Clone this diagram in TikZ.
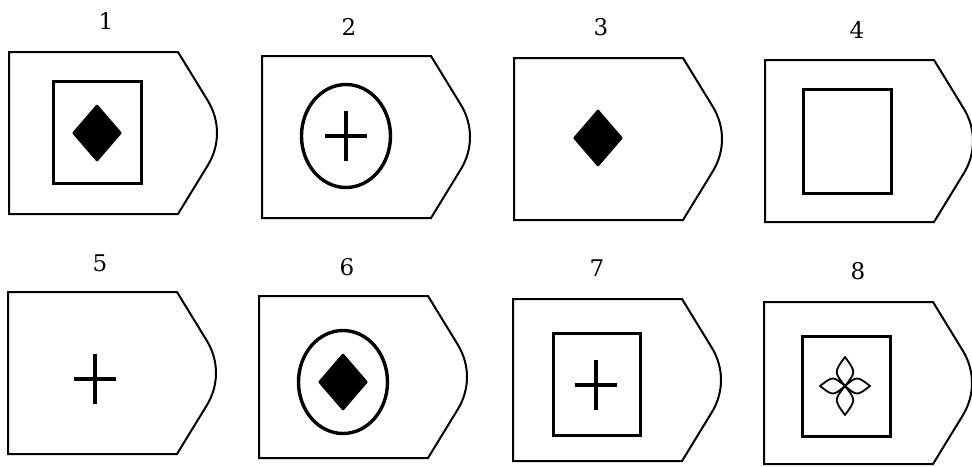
\documentclass[tikz,border=0pt]{standalone}
\usepackage{fontspec}
\newfontfamily\numfont{DejaVu Serif}
\usepackage{tikz}
\usetikzlibrary{positioning}

\begin{document}
\begin{tikzpicture}[
 x=1pt,y=-1pt,
 outline/.style={line width=2pt,line join=miter},
 frame/.style={line width=3.4pt,line join=miter},
 crossbar/.style={line width=3.2pt},
 num/.style={font=\numfont\fontsize{23}{25}\selectfont,inner sep=0pt},
 tag/.pic={\draw[outline] (0,0) -- (169,0) -- (199,49) .. controls (211,69) and (211,93) .. (199,113) -- (169,162) -- (0,162) -- cycle;},
 rhomb/.pic={\fill[rounded corners=1pt] (-25,0) -- (0,-29) -- (25,0) -- (0,29) -- cycle;},
 plus/.pic={\draw[crossbar] (-21,0) -- (21,0) (0,-25) -- (0,25);},
 petals/.pic={\draw[line width=1.8pt,line join=round]
   (0,0) .. controls (11,-14) .. (0,-29) .. controls (-11,-14) .. (0,0)
   (0,0) .. controls (11,14) .. (0,29) .. controls (-11,14) .. (0,0)
   (0,0) .. controls (-12,10) .. (-25,0) .. controls (-12,-10) .. (0,0)
   (0,0) .. controls (12,10) .. (25,0) .. controls (12,-10) .. (0,0);},
]
\useasboundingbox (0,0) rectangle (972,466);

% numbers over the panels
\foreach \k/\px/\py in {1/106/21,2/349/27,3/601/27,4/857/30,5/100/263,6/347/267,7/597/268,8/858/271}
  \node[num] (n\k) at (\px,\py) {\k};

% outlines
\foreach \ox/\oy in {9/52,262/56,514/58,765/60,8/292,259/296,513/299,764/302}
  \pic at (\ox,\oy) {tag};

% 1
\begin{scope}[shift={(9,52)}]
\draw[frame] (44.5,29.5) rectangle (132.5,131.5);
\pic at (88,81) {rhomb};
\end{scope}
% 2
\begin{scope}[shift={(262,56)}]
\draw[frame] (84,80) ellipse [x radius=44.5, y radius=51.5];
\pic at (84,80) {plus};
\end{scope}
% 3
\begin{scope}[shift={(514,58)}]
\pic at (84,80) {rhomb};
\end{scope}
% 4
\begin{scope}[shift={(765,60)}]
\draw[frame] (38.5,29.5) rectangle (126.5,133.5);
\end{scope}
% 5
\begin{scope}[shift={(8,292)}]
\pic at (87,87) {plus};
\end{scope}
% 6
\begin{scope}[shift={(259,296)}]
\draw[frame] (84,86) ellipse [x radius=44.5, y radius=51.5];
\pic at (84,86) {rhomb};
\end{scope}
% 7
\begin{scope}[shift={(513,299)}]
\draw[frame] (40.5,34.5) rectangle (127.5,136.5);
\pic at (83,86) {plus};
\end{scope}
% 8
\begin{scope}[shift={(764,302)}]
\draw[frame] (38.5,34.5) rectangle (126.5,134.5);
\pic at (81,84) {petals};
\end{scope}
\end{tikzpicture}
\end{document}
